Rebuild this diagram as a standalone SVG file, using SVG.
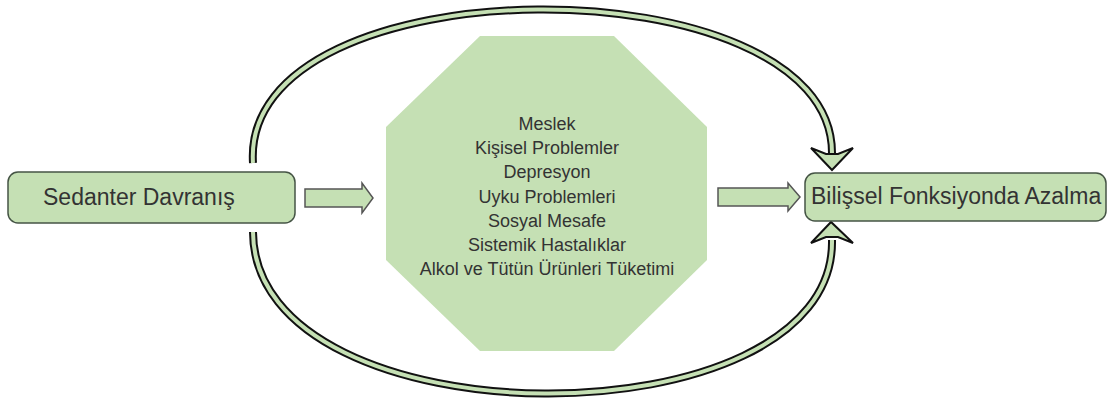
<svg xmlns="http://www.w3.org/2000/svg" width="1108" height="407" viewBox="0 0 1108 407">
<style>
.box{fill:#c5e0b4;stroke:#455445;stroke-width:1.5}
.lbl{font-family:"Liberation Sans",Arial,sans-serif;font-size:23px;fill:#333333}
.oct{fill:#c5e0b4;stroke:none}
.otxt{font-family:"Liberation Sans",Arial,sans-serif;font-size:18px;fill:#333333;text-anchor:middle}
.blk{fill:#c5e0b4;stroke:#555555;stroke-width:1.5;stroke-linejoin:miter}
.arcO{fill:none;stroke:#111111;stroke-width:8}
.arcI{fill:none;stroke:#c5e0b4;stroke-width:4}
.head{fill:#c5e0b4;stroke:#111111;stroke-width:2;stroke-linejoin:miter}
</style>
<rect width="1108" height="407" fill="#ffffff"/>
<g id="connectors">
  <polygon class="blk" points="305,189 362,189 362,183 373,198 362,213 362,207 305,207"/>
  <polygon class="blk" points="718,188 788,188 788,183 800,197 788,211 788,206 718,206"/>
  <path class="arcO" d="M253 163 C240 -40 832 -40 832 153"/>
  <path class="arcI" d="M253 163 C240 -40 832 -40 832 153"/>
  <polygon class="head" points="811,148 826,154 838,154 853,148 832,170"/>
  <path class="arcO" d="M253 232 C254 446 836 446 832 240"/>
  <path class="arcI" d="M253 232 C254 446 836 446 832 240"/>
  <polygon class="head" points="811,243 826,237 838,237 853,243 831,222"/>
</g>
<g id="node-sedanter">
  <rect class="box" x="8" y="172" width="287" height="51" rx="10"/>
  <text class="lbl" x="43" y="205">Sedanter Davranış</text>
</g>
<g id="node-factors">
  <polygon class="oct" points="480,36 614,36 707,127 707,260 614,351 480,351 386,260 386,127"/>
  <text class="otxt" x="547" y="130">Meslek</text>
  <text class="otxt" x="547" y="154">Kişisel Problemler</text>
  <text class="otxt" x="547" y="178">Depresyon</text>
  <text class="otxt" x="547" y="203">Uyku Problemleri</text>
  <text class="otxt" x="547" y="227">Sosyal Mesafe</text>
  <text class="otxt" x="547" y="251">Sistemik Hastalıklar</text>
  <text class="otxt" x="547" y="275">Alkol ve Tütün Ürünleri Tüketimi</text>
</g>
<g id="node-bilissel">
  <rect class="box" x="805" y="173" width="301" height="48" rx="10"/>
  <text class="lbl" x="811" y="204">Bilişsel Fonksiyonda Azalma</text>
</g>
</svg>
